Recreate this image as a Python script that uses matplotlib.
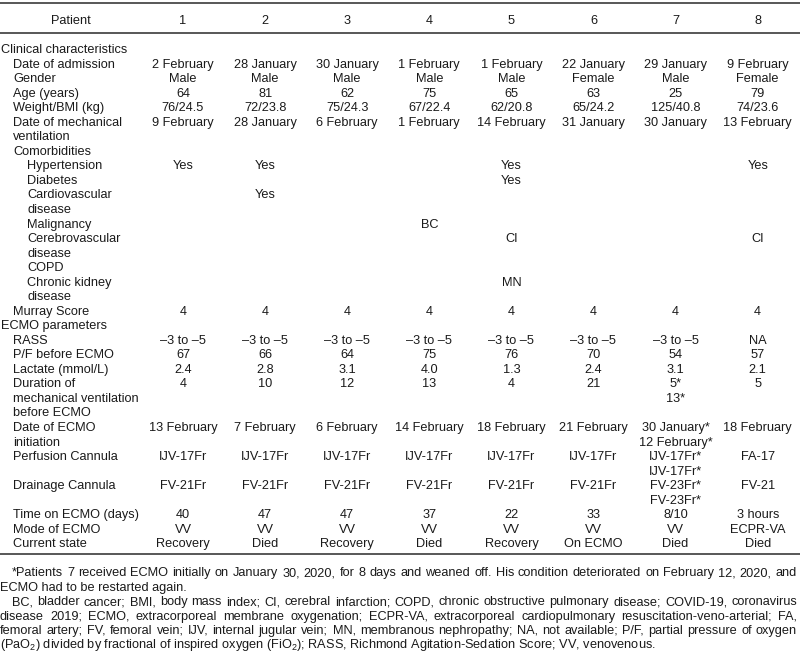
import matplotlib
matplotlib.use('Agg')
import matplotlib.pyplot as plt
from matplotlib import font_manager

# table contents
patients = ['1', '2', '3', '4', '5', '6', '7', '8']
admission = ['2 February', '28 January', '30 January', '1 February', '1 February', '22 January', '29 January', '9 February']
gender = ['Male', 'Male', 'Male', 'Male', 'Male', 'Female', 'Male', 'Female']
age = ['64', '81', '62', '75', '65', '63', '25', '79']
weight_bmi = ['76/24.5', '72/23.8', '75/24.3', '67/22.4', '62/20.8', '65/24.2', '125/40.8', '74/23.6']
mech_vent_date = ['9 February', '28 January', '6 February', '1 February', '14 February', '31 January', '30 January', '13 February']
hypertension = ['Yes', 'Yes', '', '', 'Yes', '', '', 'Yes']
diabetes = ['', '', '', '', 'Yes', '', '', '']
cardiovascular = ['', 'Yes', '', '', '', '', '', '']
malignancy = ['', '', '', 'BC', '', '', '', '']
cerebrovascular = ['', '', '', '', 'CI', '', '', 'CI']
copd = ['', '', '', '', '', '', '', '']
kidney = ['', '', '', '', 'MN', '', '', '']
murray = ['4', '4', '4', '4', '4', '4', '4', '4']
rass = ['–3 to –5'] * 7 + ['NA']
pf_ratio = ['67', '66', '64', '75', '76', '70', '54', '57']
lactate = ['2.4', '2.8', '3.1', '4.0', '1.3', '2.4', '3.1', '2.1']
duration = ['4', '10', '12', '13', '4', '21', '5*\n13*', '5']
ecmo_date = ['13 February', '7 February', '6 February', '14 February', '18 February', '21 February',
             '30 January*\n12 February*', '18 February']
perfusion = ['IJV-17Fr'] * 6 + ['IJV-17Fr*\nIJV-17Fr*', 'FA-17']
drainage = ['FV-21Fr'] * 6 + ['FV-23Fr*\nFV-23Fr*', 'FV-21']
time_on = ['40', '47', '47', '37', '22', '33', '8/10', '3 hours']
mode = ['VV'] * 7 + ['ECPR-VA']
state = ['Recovery', 'Died', 'Recovery', 'Died', 'Recovery', 'On ECMO', 'Died', 'Died']

blank = [''] * 8
# (label, indent level, values)
rows = [
    ('Clinical characteristics', 0, blank),
    ('Date of admission', 1, admission),
    ('Gender', 1, gender),
    ('Age (years)', 1, age),
    ('Weight/BMI (kg)', 1, weight_bmi),
    ('Date of mechanical\nventilation', 1, mech_vent_date),
    ('Comorbidities', 1, blank),
    ('Hypertension', 2, hypertension),
    ('Diabetes', 2, diabetes),
    ('Cardiovascular\ndisease', 2, cardiovascular),
    ('Malignancy', 2, malignancy),
    ('Cerebrovascular\ndisease', 2, cerebrovascular),
    ('COPD', 2, copd),
    ('Chronic kidney\ndisease', 2, kidney),
    ('Murray Score', 1, murray),
    ('ECMO parameters', 0, blank),
    ('RASS', 1, rass),
    ('P/F before ECMO', 1, pf_ratio),
    ('Lactate (mmol/L)', 1, lactate),
    ('Duration of\nmechanical ventilation\nbefore ECMO', 1, duration),
    ('Date of ECMO\ninitiation', 1, ecmo_date),
    ('Perfusion Cannula', 1, perfusion),
    ('Drainage Cannula', 1, drainage),
    ('Time on ECMO (days)', 1, time_on),
    ('Mode of ECMO', 1, mode),
    ('Current state', 1, state),
]

notes_justified = [
    '*Patients 7 received ECMO initially on January 30, 2020, for 8 days and weaned off. His condition deteriorated on February 12, 2020, and',
    None,
    'BC, bladder cancer; BMI, body mass index; CI, cerebral infarction; COPD, chronic obstructive pulmonary disease; COVID-19, coronavirus',
    'disease 2019; ECMO, extracorporeal membrane oxygenation; ECPR-VA, extracorporeal cardiopulmonary resuscitation-veno-arterial; FA,',
    'femoral artery; FV, femoral vein; IJV, internal jugular vein; MN, membranous nephropathy; NA, not available; P/F, partial pressure of oxygen',
    None,
]
notes_plain = [None, 'ECMO had to be restarted again.', None, None, None,
               '(PaO$_2$) divided by fractional of inspired oxygen (FiO$_2$); RASS, Richmond Agitation-Sedation Score; VV, venovenous.']
notes_indent = [True, False, True, False, False, False]

plt.rcParams['font.family'] = ['Liberation Sans', 'DejaVu Sans']
plt.rcParams['mathtext.fontset'] = 'custom'
plt.rcParams['mathtext.rm'] = 'Liberation Sans'
plt.rcParams['mathtext.it'] = 'Liberation Sans:italic'

try:
    font_manager.findfont('Liberation Sans Narrow', fallback_to_default=False)
    note_family = ['Liberation Sans Narrow', 'DejaVu Sans']
except Exception:
    note_family = ['Liberation Sans', 'DejaVu Sans']

ink = '#1a1a1a'
fig = plt.figure(figsize=(8, 6.54), dpi=100)
ax = fig.add_axes([0, 0, 1, 1])
ax.set_xlim(0, 800)
ax.set_ylim(654, 0)
ax.axis('off')

fs = 9.2
col_x = [183 + 82.1 * i for i in range(8)]
indent_x = [1, 13, 27]
pitch = 14.53
y0 = 49
base = 4.2  # baseline offset below the visual line centre

# rules
for yy in (3, 32.5, 554):
    ax.plot([0, 800], [yy, yy], color='#4a4a4a', linewidth=1.3, solid_capstyle='butt')

ax.text(71, 19.5 + base, 'Patient', ha='center', va='baseline', fontsize=fs, color=ink)
for x, p in zip(col_x, patients):
    ax.text(x, 19.5 + base, p, ha='center', va='baseline', fontsize=fs, color=ink)

line = 0
for label, level, values in rows:
    lab_lines = label.split('\n')
    for k, t in enumerate(lab_lines):
        ax.text(indent_x[level], y0 + (line + k) * pitch + base, t, ha='left', va='baseline',
                fontsize=fs, color=ink)
    n = len(lab_lines)
    for x, v in zip(col_x, values):
        parts = v.split('\n') if v else []
        for k, t in enumerate(parts):
            ax.text(x, y0 + (line + k) * pitch + base, t, ha='center', va='baseline',
                    fontsize=fs, color=ink)
        n = max(n, len(parts))
    line += n

# footnotes
renderer = fig.canvas.get_renderer()
note_y = [572, 586.5, 601, 615.5, 629.5, 643.5]
probe = ax.text(0, 0, notes_plain[5], fontsize=10, family=note_family)
w10 = probe.get_window_extent(renderer).width
probe.remove()
nfs = 10 * 653 / w10
left_in, right_edge = 12, 797

for i, yy in enumerate(note_y):
    x_start = left_in if notes_indent[i] else 0
    yb = yy + base
    if notes_justified[i] is None:
        ax.text(x_start, yb, notes_plain[i], ha='left', va='baseline', fontsize=nfs,
                family=note_family, color=ink)
        continue
    words = notes_justified[i].split(' ')
    objs = [ax.text(0, yb, w, ha='left', va='baseline', fontsize=nfs, family=note_family, color=ink)
            for w in words]
    widths = [o.get_window_extent(renderer).width for o in objs]
    gap = (right_edge - x_start - sum(widths)) / (len(words) - 1)
    x = x_start
    for o, w in zip(objs, widths):
        o.set_x(x)
        x += w + gap

fig.savefig('out.png', dpi=100)
